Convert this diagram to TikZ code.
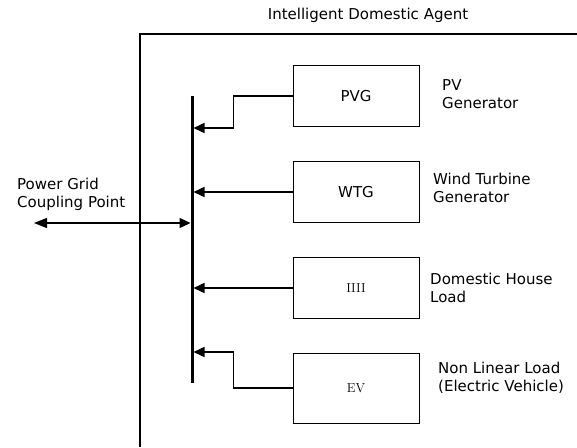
\documentclass[tikz,border=0pt]{standalone}
\usepackage{fontspec}
\setmainfont{DejaVu Sans}
\newfontfamily\lmserif{Latin Modern Roman}
\usetikzlibrary{arrows.meta}
\begin{document}
\begin{tikzpicture}[x=1pt,y=-1pt,
  every node/.style={font=\fontsize{15}{18}\selectfont, inner sep=0pt},
  unitbox/.style={draw, line width=0.9pt, minimum width=126pt, minimum height=61pt},
  lbl/.style={anchor=west, align=left},
  conn/.style={line width=1.4pt, -{Triangle[length=11pt,width=10pt]}},
  serifsmall/.style={font=\lmserif\fontsize{13}{15}\selectfont}]
\useasboundingbox (0,0) rectangle (577,447);
% frame
\draw[line width=1.8pt] (140,447) -- (140,34) -- (578,34);
\node (title) at (368,15) {Intelligent Domestic Agent};
% bus
\coordinate (bustop) at (192,96);
\coordinate (busbot) at (192,383);
\draw[line width=3pt] (bustop) -- (busbot);
% boxes
\node[unitbox] (pvg) at (356,96) {PVG};
\node[unitbox] (wtg) at (356,192) {WTG};
\node[unitbox, serifsmall] (hl) at (356,288) {IIII};
\node[unitbox, serifsmall, minimum height=70pt] (ev) at (356,388) {EV};
% bus entry points
\coordinate (b1) at (193.5,128);
\coordinate (b2) at (193.5,192);
\coordinate (b3) at (193.5,288);
\coordinate (b4) at (193.5,352);
\draw[conn] (pvg.west) -- ++(-59,0) |- (b1);
\draw[conn] (wtg.west) -- (b2);
\draw[conn] (hl.west) -- (b3);
\draw[conn] (ev.west) -- ++(-59,0) |- (b4);
% grid coupling
\coordinate (gridend) at (34,223);
\coordinate (gridbus) at (190.5,223);
\draw[line width=1.4pt, {Triangle[length=13pt,width=10pt]}-{Triangle[length=11pt,width=10pt]}] (gridend) -- (gridbus);
\node[lbl] (gridlbl) at (17,194) {Power Grid\\Coupling Point};
% labels
\node[lbl] (pvlbl) at (442,94) {PV\\Generator};
\node[lbl] (wtlbl) at (433,188) {Wind Turbine\\Generator};
\node[lbl] (hllbl) at (430,288) {Domestic House\\Load};
\node[lbl] (evlbl) at (438,378) {Non Linear Load\\(Electric Vehicle)};
\end{tikzpicture}
\end{document}
